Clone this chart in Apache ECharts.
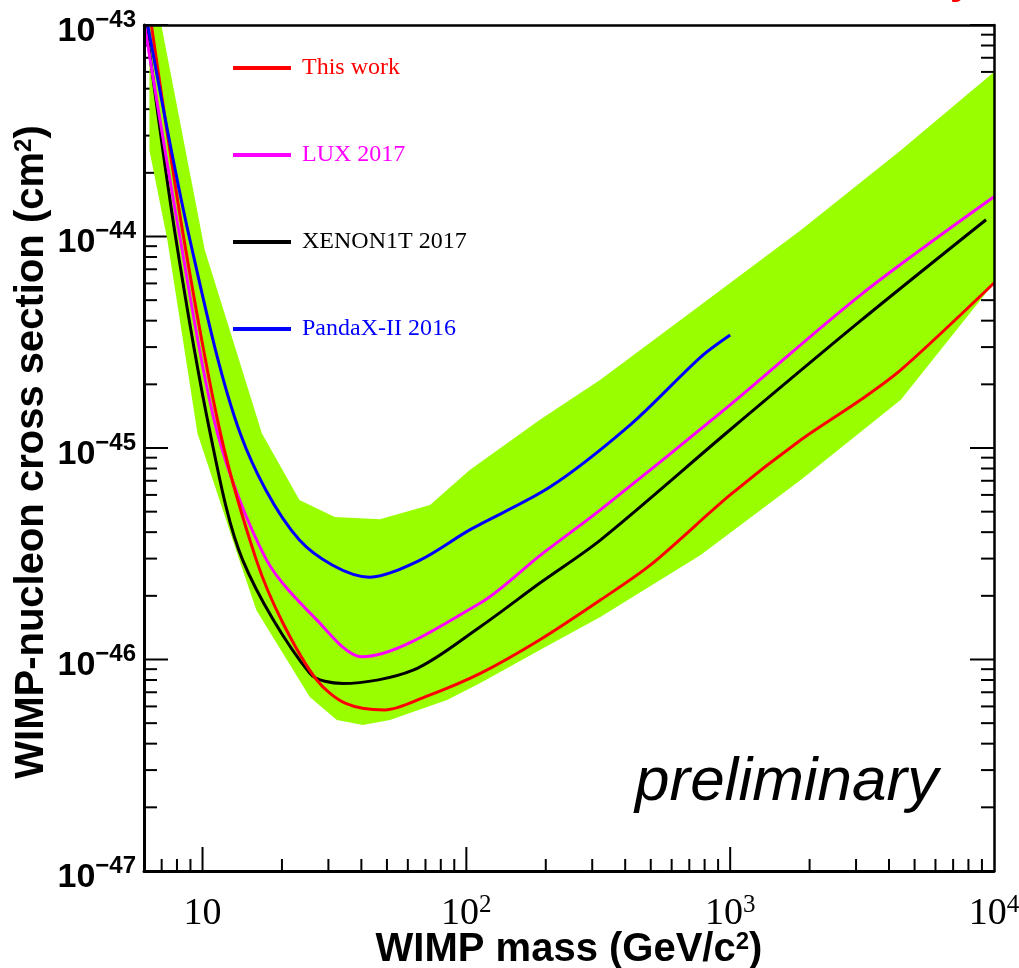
<!DOCTYPE html>
<html><head><meta charset="utf-8">
<script src="https://cdn.jsdelivr.net/npm/echarts@6/dist/echarts.min.js"></script>
<style>html,body{margin:0;padding:0;background:#fff}#c{width:1019px;height:968px}</style>
</head><body><div id="c"></div>
<script>
// ---- data ----
const thisWorkMass  = [6.4, 8.47, 11.7, 16.0, 20.1, 27.1, 34.9, 49.1, 69.7, 113, 190, 322, 499, 1000, 1850, 3125, 4435, 10000];
const thisWorkSigma = [1e-43, 1.0e-44, 1.17e-45, 2.95e-46, 1.5e-46, 8.0e-47, 6.2e-47, 5.77e-47, 6.65e-47, 8.6e-47, 1.24e-46, 1.91e-46, 2.8e-46, 6.0e-46, 1.09e-45, 1.69e-45, 2.34e-45, 6.03e-45];

const luxMass  = [6.03, 8.2, 11.4, 17.5, 27.1, 40.2, 113, 190, 322, 1000, 3125, 10000];
const luxSigma = [1e-43, 1e-44, 1.17e-45, 2.95e-46, 1.54e-46, 1.03e-46, 1.85e-46, 3.1e-46, 5.1e-46, 1.6e-45, 5.3e-45, 1.54e-44];

const xenonMass  = [6.1, 7.9, 10.7, 14.2, 25.5, 34, 62.8, 113, 190, 322, 1000, 3125, 9330];
const xenonSigma = [1e-43, 1e-44, 1.17e-45, 2.95e-46, 8.6e-47, 7.7e-47, 8.9e-47, 1.43e-46, 2.3e-46, 3.67e-46, 1.22e-45, 4.0e-45, 1.2e-44];

const pandaMass  = [6.2, 8.9, 13.9, 23.3, 43, 66.7, 103, 208, 419, 773, 1000];
const pandaSigma = [1e-43, 1e-44, 1.17e-45, 3.67e-46, 2.45e-46, 2.95e-46, 4.1e-46, 6.55e-46, 1.29e-45, 2.69e-45, 3.42e-45];

// green band: upper edge (left to right) and lower edge (left to right)
const bandUpperMass  = [6.98, 10.2, 16.8, 23.3, 31.7, 47, 72.8, 103, 190, 322, 773, 1850, 4435, 10000];
const bandUpperSigma = [1e-43, 8.63e-45, 1.17e-45, 5.68e-46, 4.72e-46, 4.61e-46, 5.37e-46, 7.87e-46, 1.36e-45, 2.1e-45, 4.74e-45, 1.07e-44, 2.56e-44, 6.0e-44];
const bandLowerMass  = [6.29, 6.29, 7.36, 9.57, 13.8, 16.0, 25.5, 32.3, 40.5, 51.3, 84.5, 113, 190, 322, 773, 1850, 4435, 10000];
const bandLowerSigma = [1e-43, 2.56e-44, 9.6e-45, 1.17e-45, 2.95e-46, 1.71e-46, 6.65e-47, 5.18e-47, 4.9e-47, 5.18e-47, 6.44e-47, 7.74e-47, 1.11e-46, 1.59e-46, 3.12e-46, 7.06e-46, 1.69e-45, 6.03e-45];

const seriesNames  = ['This work', 'LUX 2017', 'XENON1T 2017', 'PandaX-II 2016'];
const seriesColors = ['#ff0000', '#ff00ff', '#000000', '#0000ff'];
const legendTextColors = ['#ff0000', '#ff00ff', '#000000', '#0000ff'];
const bandColor = '#99ff00';

// axes
const xMin = 6, xMax = 10000, yMin = 1e-47, yMax = 1e-43;
const xMajorTicks = [10, 100, 1000];
const xDecades = [1, 10, 100, 1000];
const yMajorTicks = [1e-47, 1e-46, 1e-45, 1e-44, 1e-43];
const yTickExponents = ['\u221247', '\u221246', '\u221245', '\u221244', '\u221243'];
const yDecades = [1e-47, 1e-46, 1e-45, 1e-44];
const minorMultipliers = [2, 3, 4, 5, 6, 7, 8, 9];

const xMinorTicks = [];
xDecades.forEach(d => minorMultipliers.forEach(k => { const v = k * d; if (v > xMin && v < xMax) xMinorTicks.push(v); }));
const yMinorTicks = [];
yDecades.forEach(d => minorMultipliers.forEach(k => yMinorTicks.push(k * d)));

const xTitle = '{t|WIMP mass (GeV/c}{s|2}{t|)}';
const yTitle = '{t|WIMP-nucleon cross section (cm}{s|2}{t|)}';

const SANS = 'Liberation Sans';
const SERIF = 'Liberation Serif';

function pairs(a, b) { return a.map((v, i) => [v, b[i]]); }
function isDecade(v) { const l = Math.log10(v); return Math.abs(l - Math.round(l)) < 1e-6; }

const titleRich = {
  t: { fontFamily: SANS, fontWeight: 'bold', fontSize: 40, lineHeight: 44, color: '#000', fill: '#000' },
  s: { fontFamily: SANS, fontWeight: 'bold', fontSize: 24, lineHeight: 24, color: '#000', fill: '#000', verticalAlign: 'top', padding: [2, 0, 0, 0] }
};
const yLabelRich = {
  a: { fontFamily: SANS, fontWeight: 'bold', fontSize: 34, lineHeight: 34, fill: '#000', padding: [13, 0, 0, 0] },
  b: { fontFamily: SANS, fontWeight: 'bold', fontSize: 24, lineHeight: 24, fill: '#000', verticalAlign: 'top', padding: [0, 0, 0, 0] }
};

function xTickSeries(values, len) {
  return {
    type: 'custom', z: 1, silent: true,
    data: values.map(v => [v, yMin]),
    encode: { x: 0, y: 1 },
    renderItem: (params, api) => {
      const p = api.coord([api.value(0), yMin]);
      return { type: 'line', shape: { x1: p[0], y1: p[1], x2: p[0], y2: p[1] - len }, style: { stroke: '#000', lineWidth: 2 } };
    }
  };
}
function yTickSeries(values, len) {
  return {
    type: 'custom', z: 1, silent: true,
    data: values.map(v => [xMin, v]),
    encode: { x: 0, y: 1 },
    renderItem: (params, api) => {
      const v = api.value(1);
      const l = api.coord([xMin, v]);
      const r = api.coord([xMax, v]);
      return { type: 'group', children: [
        { type: 'line', shape: { x1: l[0], y1: l[1], x2: l[0] + len, y2: l[1] }, style: { stroke: '#000', lineWidth: 2 } },
        { type: 'line', shape: { x1: r[0], y1: r[1], x2: r[0] - len, y2: r[1] }, style: { stroke: '#000', lineWidth: 2 } }
      ] };
    }
  };
}
// y tick labels (10^-47 ... 10^-43) placed with the y axis scale
const yLabelSeries = {
  type: 'custom', z: 12, silent: true, clip: false,
  data: yMajorTicks.map(v => [xMin, v]),
  encode: { x: 0, y: 1 },
  renderItem: (params, api) => {
    const p = api.coord([xMin, api.value(1)]);
    return { type: 'text', x: p[0] - 8, y: p[1],
      style: { text: '{a|10}{b|' + yTickExponents[params.dataIndex] + '}', rich: yLabelRich, align: 'right', verticalAlign: 'middle' } };
  }
};

const bandPoints = pairs(bandUpperMass, bandUpperSigma).concat(pairs(bandLowerMass, bandLowerSigma).reverse());

const curveData = [
  pairs(thisWorkMass, thisWorkSigma),
  pairs(luxMass, luxSigma),
  pairs(xenonMass, xenonSigma),
  pairs(pandaMass, pandaSigma)
];
const drawOrder = [2, 1, 0, 3];

const chart = echarts.init(document.getElementById('c'), null, { renderer: 'canvas' });
const option = {
  animation: false,
  backgroundColor: '#ffffff',
  grid: { left: 144, right: 25, top: 25, bottom: 97, containLabel: false, outerBoundsMode: 'none' },
  xAxis: [{
    type: 'log', logBase: 10, min: xMin, max: xMax, z: 10,
    axisLine: { show: true, onZero: false, lineStyle: { color: '#000', width: 3 } },
    axisTick: { show: false }, splitLine: { show: false }, minorTick: { show: false },
    axisLabel: {
      margin: 22, showMinLabel: true, showMaxLabel: true, hideOverlap: false,
      formatter: v => {
        if (!isDecade(v)) return '';
        const e = Math.round(Math.log10(v));
        return e === 1 ? '{a|10}' : '{a|10}{b|' + e + '}';
      },
      rich: {
        a: { fontFamily: SERIF, fontSize: 38, lineHeight: 38, color: '#000', padding: [4, 0, 0, 0] },
        b: { fontFamily: SERIF, fontSize: 25, lineHeight: 25, color: '#000', verticalAlign: 'top', padding: [0, 0, 0, 0] }
      }
    },
    name: xTitle,
    nameLocation: 'middle', nameGap: 57, nameMoveOverlap: false,
    nameTextStyle: { rich: titleRich }
  }, {
    type: 'log', logBase: 10, min: xMin, max: xMax, position: 'top', z: 10,
    axisLine: { show: true, onZero: false, lineStyle: { color: '#000', width: 2.5 } },
    axisTick: { show: false }, axisLabel: { show: false }, splitLine: { show: false }
  }],
  yAxis: [{
    type: 'log', logBase: 10, min: yMin, max: yMax, z: 10,
    axisLine: { show: true, onZero: false, lineStyle: { color: '#000', width: 3 } },
    axisTick: { show: false }, splitLine: { show: false }, minorTick: { show: false },
    axisLabel: { show: false }
  }, {
    type: 'log', logBase: 10, min: yMin, max: yMax, position: 'right', z: 10,
    axisLine: { show: true, onZero: false, lineStyle: { color: '#000', width: 2.5 } },
    axisTick: { show: false }, axisLabel: { show: false }, splitLine: { show: false }
  }],
  legend: {
    orient: 'vertical', left: 233, top: 56, padding: 0,
    itemWidth: 58, itemHeight: 4, itemGap: 63, icon: 'rect',
    selectedMode: false,
    textStyle: { fontFamily: SERIF, fontSize: 24, lineHeight: 24, padding: [0, 0, 0, 6] },
    data: seriesNames.map((n, i) => ({ name: n, textStyle: { color: legendTextColors[i] } }))
  },
  graphic: [
    { type: 'text', x: 32, y: 452, rotation: Math.PI / 2, z: 20,
      style: { text: yTitle, rich: titleRich, align: 'center', verticalAlign: 'middle' } },
    { type: 'text', left: 635, top: 752, z: 20,
      style: { text: 'preliminary', font: 'italic 62px "Liberation Sans"', fill: '#000' } },
    { type: 'text', z: 20,
      style: { x: 950, y: 3, text: 'y', font: 'bold 40px "Liberation Sans"', fill: '#ff0000', verticalAlign: 'bottom' } }
  ],
  series: [
    xTickSeries(xMajorTicks, 24),
    xTickSeries(xMinorTicks, 12),
    yTickSeries(yMajorTicks, 24),
    yTickSeries(yMinorTicks, 13),
    yLabelSeries,
    {
      type: 'custom', z: 2, silent: true, name: 'band',
      data: bandPoints, encode: { x: 0, y: 1 },
      renderItem: (params, api) => {
        if (params.dataIndex !== 0) return null;
        const pts = bandPoints.map(p => api.coord(p));
        return { type: 'polygon', shape: { points: pts }, style: { fill: bandColor } };
      }
    }
  ].concat(drawOrder.map(i => ({
    type: 'line', name: seriesNames[i], data: curveData[i], z: 3 + drawOrder.indexOf(i),
    color: seriesColors[i], symbol: 'none', smooth: 0.3, clip: true,
    lineStyle: { color: seriesColors[i], width: 3 }
  })))
};
chart.setOption(option);
</script>
</body></html>
